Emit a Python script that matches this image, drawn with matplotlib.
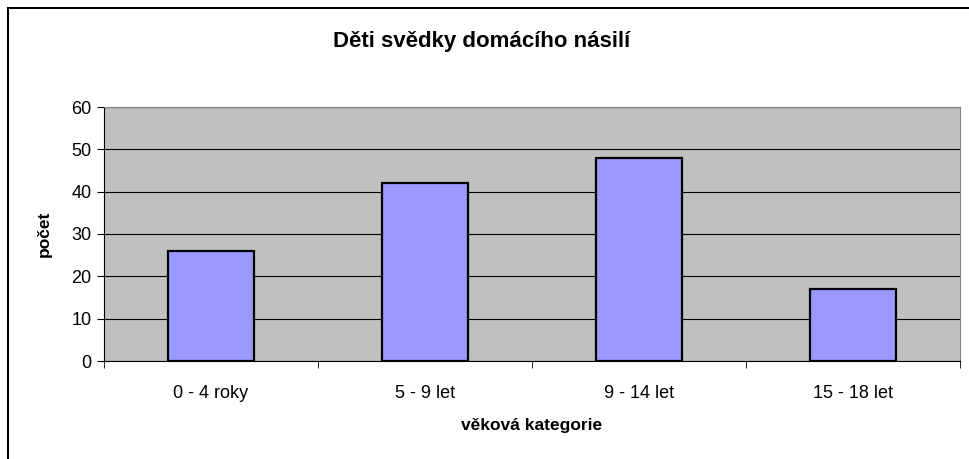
import matplotlib
matplotlib.use("Agg")
import matplotlib.pyplot as plt
from matplotlib.patches import Rectangle

plt.rcParams["font.family"] = ["Liberation Sans", "DejaVu Sans"]

categories = ["0 - 4 roky", "5 - 9 let", "9 - 14 let", "15 - 18 let"]
values = [26, 42, 48, 17]
yticks = [0, 10, 20, 30, 40, 50, 60]

W, H = 969, 459
fig = plt.figure(figsize=(W / 100, H / 100), dpi=100)

# outer chart border (only left/top visible in the reference)
fig.patches.append(Rectangle((8 / W, -0.05), 1.2, 1 - 8 / H + 0.05,
                             transform=fig.transFigure, fill=False,
                             edgecolor="black", linewidth=1.5))

ax = fig.add_axes([104 / W, 1 - 361 / H, (960 - 104) / W, (361 - 107) / H])
ax.set_facecolor("#C0C0C0")
x = range(len(categories))
ax.bar(x, values, width=0.4, color="#9999FF", edgecolor="black",
       linewidth=1.6, zorder=3)
ax.set_xlim(-0.5, len(categories) - 0.5)
ax.set_ylim(0, 60)
ax.set_yticks(yticks)
ax.yaxis.grid(True, color="black", linewidth=0.8, zorder=0)
ax.set_axisbelow(True)

ax.set_xticks(x)
ax.set_xticklabels(categories, fontsize=13)
ax.set_xticks([i - 0.5 for i in range(len(categories) + 1)], minor=True)
ax.tick_params(axis="x", which="major", length=0, pad=17)
ax.tick_params(axis="x", which="minor", length=5, color="black")
ax.tick_params(axis="y", labelsize=13, length=5, pad=4)

for side in ["top", "right"]:
    ax.spines[side].set_color("#808080")
ax.spines["left"].set_color("black")
ax.spines["bottom"].set_color("black")

ax.set_xlabel("věková kategorie", fontsize=12.5, fontweight="bold", labelpad=12)
ax.set_ylabel("počet", fontsize=12.5, fontweight="bold", labelpad=14)
fig.text(0.5 * (104 + 860) / W, 1 - 41 / H, "Děti svědky domácího násilí",
         ha="center", va="center", fontsize=16, fontweight="bold")

fig.savefig("out.png", dpi=100)
